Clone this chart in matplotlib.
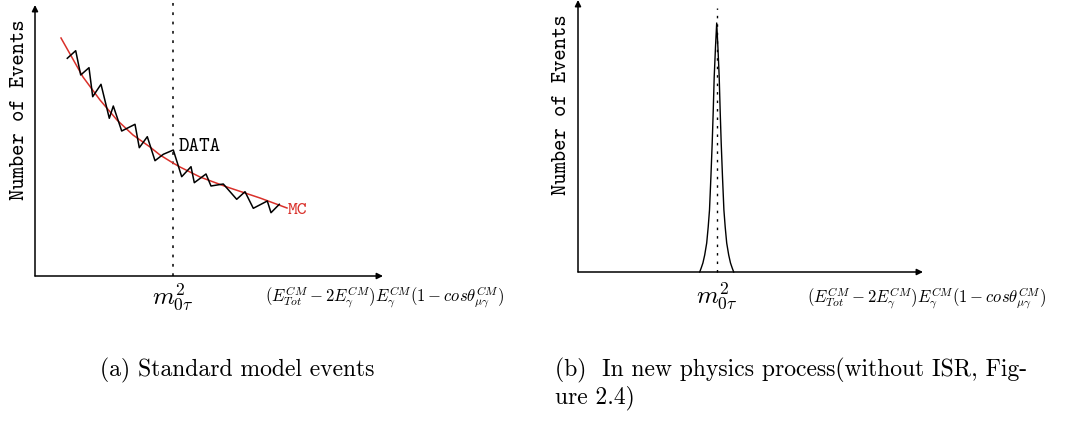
""" Sketch of expected event distributions: SM background vs new physics peak """

import matplotlib
matplotlib.use('Agg')
import matplotlib.pyplot as plt

plt.rcParams['mathtext.fontset'] = 'cm'

# Panel (a) : DATA zigzag and MC smooth curve (arbitrary units)
data_x = [32.3, 40.7, 45.7, 54, 57.7, 66, 74.3, 78.3, 86.7, 100, 104.3, 112.3, 120,
          128.3, 138.3, 146.7, 156, 159.3, 171, 176, 188.3, 201.7, 210, 218.3, 232.3,
          236, 244.3]
data_y = [217.7, 225.3, 201, 208.3, 179.3, 191.7, 157.7, 170, 145, 151.7, 128.3, 139.3,
          115.3, 121.7, 126, 99.3, 109.3, 93.3, 102, 90, 92, 76.7, 84.3, 67.7, 75,
          63.3, 71.7]
mc_x = [26, 48, 65, 82, 98, 115, 125, 138, 145, 165, 192, 225, 252]
mc_y = [238, 199, 176, 156, 141, 129, 121, 113, 109, 99, 89, 78, 68]
m0_a = 138

# Panel (b) : narrow peak at m0^2
peak_x = [121.7, 123.2, 124.9, 126.7, 128.7, 130.2, 131.5, 132.9, 134.2, 135.2, 136.2,
          137.5, 138.7, 139.9, 141.2, 142.2, 143.2, 144.5, 145.9, 147.2, 148.7, 150.7,
          152.5, 154.2, 155.7]
peak_y = [0, 4, 9, 17, 29, 45, 62, 95, 129, 160, 195, 225, 249, 225, 195, 160, 129,
          95, 62, 45, 29, 17, 9, 4, 0]
m0_b = 138.7

xlabel = r'$(E_{Tot}^{CM}-2E_{\gamma}^{CM})E_{\gamma}^{CM}(1-cos\theta_{\mu\gamma}^{CM})$'
mlabel = r'$m_{0\tau}^{2}$'

W, H = 1070, 421
fig = plt.figure(figsize=(W / 100, H / 100), dpi=100)


def make_axes(x0, y0, w, h):
    # rect given in pixels (origin top-left, y0 = axis line)
    ax = fig.add_axes([x0 / W, (H - y0) / H, w / W, h / H])
    ax.set_xlim(0, w)
    ax.set_ylim(0, h)
    ax.axis('off')
    return ax


def draw_arrows(ax, xlen, ylen):
    ap = dict(arrowstyle='-|>', lw=1.1, color='black', mutation_scale=9,
              shrinkA=0, shrinkB=0)
    ax.annotate('', xy=(xlen, 0), xytext=(0, 0), arrowprops=ap, annotation_clip=False)
    ax.annotate('', xy=(0, ylen), xytext=(0, 0), arrowprops=ap, annotation_clip=False)


dots = (0, (1.8, 4.3))

# ---- left panel
ax1 = make_axes(35, 276, 348, 276)
draw_arrows(ax1, 348, 271)
ax1.plot([m0_a, m0_a], [0, 276], color='black', ls=dots, lw=1.1, clip_on=False)
ax1.plot(mc_x, mc_y, color='#d9302a', lw=1.1, clip_on=False)
ax1.plot(data_x, data_y, color='black', lw=1.1, clip_on=False)
ax1.text(144, 129, 'DATA', family='cmtt10', fontsize=14.5, va='center', ha='left')
ax1.text(253, 66, 'MC', family='cmtt10', fontsize=13.5, va='center', ha='left', color='#d9302a')
ax1.text(-15, 166, 'Number of Events', family='cmtt10', fontsize=15.5, rotation=90,
         va='center', ha='center')
ax1.text(m0_a, -21, mlabel, fontsize=18, ha='center', va='center')
ax1.text(230, -21, xlabel, fontsize=12, ha='left', va='center')

# ---- right panel
ax2 = make_axes(578, 272, 345, 272)
draw_arrows(ax2, 345, 272)
ax2.plot([m0_b, m0_b], [0, 264], color='black', ls=dots, lw=1.0, clip_on=False)
ax2.plot(peak_x, peak_y, color='black', lw=1.0, clip_on=False)
ax2.text(-16, 167, 'Number of Events', family='cmtt10', fontsize=15.5, rotation=90,
         va='center', ha='center')
ax2.text(m0_b, -24, mlabel, fontsize=18, ha='center', va='center')
ax2.text(229, -26, xlabel, fontsize=12, ha='left', va='center')

# ---- captions
fig.text(100 / W, (H - 370) / H, '(a) Standard model events', family='cmr10',
         fontsize=17, va='center', ha='left')
fig.text(555 / W, (H - 370) / H, '(b)  In new physics process(without ISR, Fig-',
         family='cmr10', fontsize=17, va='center', ha='left')
fig.text(555 / W, (H - 398) / H, 'ure 2.4)', family='cmr10', fontsize=17,
         va='center', ha='left')

plt.savefig('out.png', dpi=100)
